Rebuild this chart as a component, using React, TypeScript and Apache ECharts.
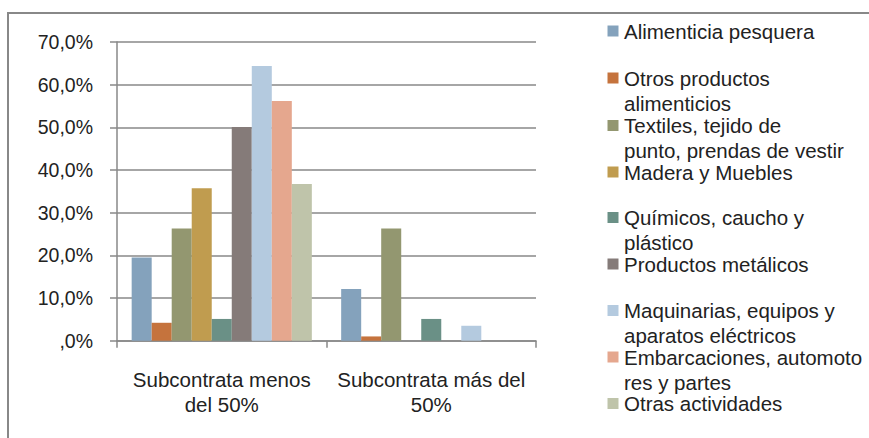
import React, { useEffect, useRef } from 'react';
import * as echarts from 'echarts';

// Categories (x axis)
const categories = ['Subcontrata menos\ndel 50%', 'Subcontrata más del\n50%'];

// Series names and legend labels
const seriesNames = [
  'Alimenticia pesquera',
  'Otros productos alimenticios',
  'Textiles, tejido de punto, prendas de vestir',
  'Madera y Muebles',
  'Químicos, caucho y plástico',
  'Productos metálicos',
  'Maquinarias, equipos y aparatos eléctricos',
  'Embarcaciones, automotores y partes',
  'Otras actividades',
];
const legendLabels = [
  'Alimenticia pesquera',
  'Otros productos\nalimenticios',
  'Textiles, tejido de\npunto, prendas de vestir',
  'Madera y Muebles',
  'Químicos, caucho y\nplástico',
  'Productos metálicos',
  'Maquinarias, equipos y\naparatos eléctricos',
  'Embarcaciones, automoto\nres y partes',
  'Otras actividades',
];

// Values (%) per category, one per series
const subcontrataMenos = [19.5, 4.2, 26.3, 35.7, 5.1, 50.1, 64.4, 56.2, 36.7];
const subcontrataMas = [12.1, 1.0, 26.3, 0, 5.1, 0, 3.5, 0, 0];

// Y axis ticks
const yMin = 0;
const yMax = 70;
const yInterval = 10;

// Styles
const colors = ['#84A2BC', '#C5733D', '#939770', '#C09C4F', '#6A9086', '#857B79', '#B4CADF', '#E5A78E', '#BFC4AA'];
const legendCenters = [31, 78, 125.5, 172, 217.5, 264, 310.5, 357, 403.5];
const FONT = '"Liberation Sans", Arial, Helvetica, sans-serif';
const TEXT = '#222222';
const LINE = '#888888';

export default function App() {
  const ref = useRef<HTMLDivElement>(null);

  useEffect(() => {
    document.body.style.margin = '0';
    if (!ref.current) return;
    const chart = echarts.init(ref.current, null, { renderer: 'svg' });

    const legendGraphics: any[] = [];
    legendLabels.forEach((label, i) => {
      const c = legendCenters[i];
      legendGraphics.push({
        type: 'rect',
        shape: { x: 607.5, y: c - 5.5, width: 11, height: 11 },
        style: { fill: colors[i] },
      });
      legendGraphics.push({
        type: 'text',
        x: 624,
        y: c - 12.5,
        style: {
          text: label,
          fontSize: 20.5,
          fontFamily: FONT,
          lineHeight: 25,
          fill: TEXT,
          verticalAlign: 'top',
          align: 'left',
        },
      });
    });

    chart.setOption({
      animation: false,
      backgroundColor: '#ffffff',
      grid: { left: 117, right: 333, top: 42, bottom: 97.3, containLabel: false },
      xAxis: {
        type: 'category',
        data: categories,
        boundaryGap: true,
        axisLine: { show: true, lineStyle: { color: LINE, width: 1.5 } },
        axisTick: { show: true, length: 7, lineStyle: { color: LINE, width: 1.5 } },
        axisLabel: {
          margin: 26,
          fontSize: 20.5,
          fontFamily: FONT,
          color: TEXT,
          lineHeight: 25,
          interval: 0,
        },
        splitLine: { show: false },
      },
      yAxis: {
        type: 'value',
        min: yMin,
        max: yMax,
        interval: yInterval,
        axisLine: { show: true, lineStyle: { color: LINE, width: 1.5 } },
        axisTick: { show: true, length: 7, lineStyle: { color: LINE, width: 1.5 } },
        axisLabel: {
          margin: 24,
          fontSize: 19.5,
          fontFamily: FONT,
          color: TEXT,
          formatter: (v: number) => (v === 0 ? ',0%' : v.toFixed(1).replace('.', ',') + '%'),
        },
        splitLine: { show: true, lineStyle: { color: LINE, width: 1.5 } },
      },
      series: seriesNames.map((name, i) => ({
        name,
        type: 'bar',
        data: [subcontrataMenos[i], subcontrataMas[i]],
        barGap: '0%',
        barCategoryGap: '14%',
        itemStyle: { color: colors[i] },
      })),
      graphic: [
        {
          type: 'rect',
          z: -10,
          shape: { x: 8, y: 13, width: 1000, height: 1000 },
          style: { fill: 'none', stroke: LINE, lineWidth: 2 },
        },
        ...legendGraphics,
      ],
    });

    return () => {
      chart.dispose();
    };
  }, []);

  return <div ref={ref} style={{ width: 869, height: 438, overflow: 'hidden' }} />;
}
